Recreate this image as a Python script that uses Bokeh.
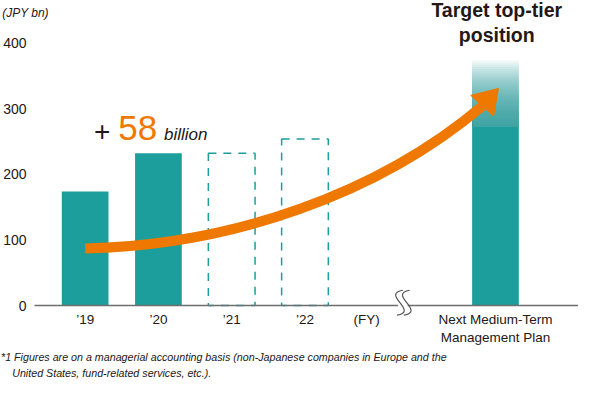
from bokeh.plotting import figure
from bokeh.models import FixedTicker, Label, Range1d
from bokeh.embed import file_html
from bokeh.resources import INLINE

# ---------------- data ----------------
year_labels = ["’19", "’20", "’21", "’22"]
actual_x = [0, 1]
actual_values = [174, 232]          # JPY bn, results
plan_x = [2, 3]
plan_values = [232, 254]            # JPY bn, plan (dashed)
target_x = [5.6]
target_base = [272]                 # solid part of the target bar
target_top = [374]                  # faded top of the target bar
fy_tick = 3.84
break_x = 4.33
target_label = "Next Medium-Term\nManagement Plan"
y_ticks = [0, 100, 200, 300, 400]
growth_value = "58"

# growth arrow (data coordinates)
arrow_x0, arrow_y0 = [0], [87]
arrow_cx0, arrow_cy0 = [2.0], [92]
arrow_cx1, arrow_cy1 = [4.0], [170]
arrow_x1, arrow_y1 = [5.42], [304]
arrow_head_x = [5.64, 5.263, 5.573]
arrow_head_y = [330.9, 320.3, 288.5]

# ---------------- style / geometry ----------------
TEAL = "#1B9E9C"
ORANGE = "#EE7800"
TEXT = "#231815"
FONT = "Liberation Sans"

W, H = 578, 379
SX, SY = W / 594, H / 395
PXX = 75.3 * SX                     # px per category step
XS = -(87 * SX) / PXX
XE = XS + W / PXX
YS, YE = -112.8, 465
PXY = H / (YE - YS)


def X(rx):
    return XS + (rx * SX) / PXX


def Y(ry):
    return YE - (ry * SY) / PXY


BW = 48 * SX / PXX

p = figure(width=W, height=H, x_range=Range1d(XS, XE), y_range=Range1d(YS, YE),
           output_backend="svg", toolbar_location=None,
           min_border_left=0, min_border_right=0, min_border_top=0, min_border_bottom=0)
p.outline_line_color = None
p.xgrid.visible = False
p.ygrid.visible = False
p.background_fill_color = "white"

# bars
p.vbar(x=actual_x, top=actual_values, bottom=0, width=BW, fill_color=TEAL, line_color=None)
p.vbar(x=plan_x, top=plan_values, bottom=0, width=BW, fill_color=None,
       line_color=TEAL, line_width=1.5, line_dash="8 7")
p.vbar(x=target_x, top=target_base, bottom=0, width=BW, fill_color=TEAL, line_color=None)

# faded top of target bar: stacked translucent layers, all starting at the solid top
n = 30
layer_alpha = 1 - 0.16 ** (1 / n)
g_tops = [target_base[0] + (target_top[0] - target_base[0]) * (i + 1) / n for i in range(n)]
p.quad(left=[target_x[0] - BW / 2] * n, right=[target_x[0] + BW / 2] * n,
       bottom=[target_base[0]] * n, top=g_tops, fill_color=TEAL,
       fill_alpha=layer_alpha, line_color=None)

# growth arrow
p.bezier(x0=arrow_x0, y0=arrow_y0, x1=arrow_x1, y1=arrow_y1,
         cx0=arrow_cx0, cy0=arrow_cy0, cx1=arrow_cx1, cy1=arrow_cy1,
         line_color=ORANGE, line_width=10, line_cap="butt")
p.patch(arrow_head_x, arrow_head_y, fill_color=ORANGE, line_color=ORANGE, line_width=1)

# axes
ya = p.yaxis[0]
ya.fixed_location = X(35)
ya.ticker = FixedTicker(ticks=y_ticks)
ya.axis_line_color = None
ya.major_tick_line_color = None
ya.minor_tick_line_color = None
ya.major_tick_out = 0
ya.major_label_standoff = 8
ya.major_label_text_font = FONT
ya.major_label_text_font_size = "14px"
ya.major_label_text_color = TEXT

xa = p.xaxis[0]
xa.fixed_location = 0
xa.bounds = (X(35), XE)
x_ticks = [0, 1, 2, 3, fy_tick, target_x[0]]
xa.ticker = FixedTicker(ticks=x_ticks)
overrides = {i: lab for i, lab in enumerate(year_labels)}
overrides[fy_tick] = "(FY)"
overrides[target_x[0]] = target_label
xa.major_label_overrides = overrides
xa.axis_line_color = "#6E6E6E"
xa.axis_line_width = 1.5
xa.major_tick_line_color = None
xa.minor_tick_line_color = None
xa.major_tick_out = 0
xa.major_label_standoff = 6
xa.major_label_text_font = FONT
xa.major_label_text_font_size = "13.5px"
xa.major_label_text_color = TEXT

# axis break mark (two S-shaped strokes)
p.quad(left=[X(408.5)], right=[X(418.5)], bottom=[Y(320.5)], top=[Y(315.5)],
       fill_color="white", line_color=None, level="overlay")
for xc in (410.5, 417.5):
    p.bezier(x0=[X(xc + 3)], y0=[Y(302)], x1=[X(xc - 3)], y1=[Y(328)],
             cx0=[X(xc - 20)], cy0=[Y(306)], cx1=[X(xc + 20)], cy1=[Y(324)],
             line_color="#555555", line_width=1.2, level="overlay")


def add_label(text, rx, ry, size, color=TEXT, style="normal", align="left"):
    p.add_layout(Label(x=X(rx), y=Y(ry), text=text, text_font=FONT, text_font_size=size,
                       text_color=color, text_font_style=style, text_align=align,
                       text_baseline="middle"))


add_label("(JPY bn)", 1.7, 12.8, "12px", style="italic")
add_label("Target top-tier", 510, 9.5, "19.5px", style="bold", align="center")
add_label("position", 510, 35.5, "19.5px", style="bold", align="center")
add_label("+", 104.5, 137, "28px", align="center")
add_label(growth_value, 121, 133, "35px", color=ORANGE)
add_label("billion", 168, 140, "17px", style="italic")
add_label("*1 Figures are on a managerial accounting basis (non-Japanese companies in Europe and the",
          0.5, 372, "10.7px", style="italic")
add_label("United States, fund-related services, etc.).", 12, 388, "10.7px", style="italic")

open("out.html", "w").write(file_html(p, INLINE))
